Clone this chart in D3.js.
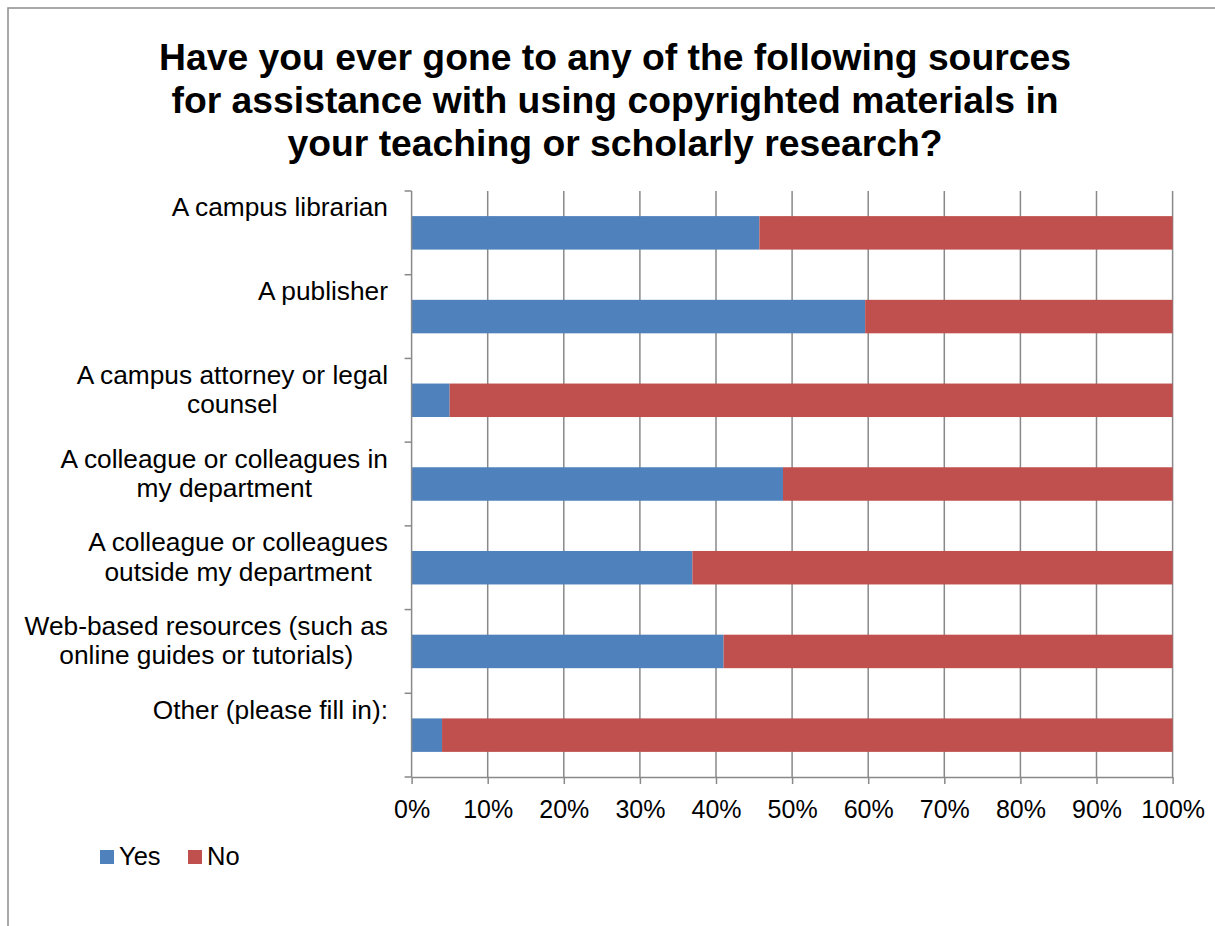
<!DOCTYPE html>
<html>
<head>
<meta charset="utf-8">
<script src="https://cdn.jsdelivr.net/npm/d3@7"></script>
<style>
  html, body { margin: 0; padding: 0; background: #fff; }
  svg { display: block; font-family: "Liberation Sans", Arial, sans-serif; }
</style>
</head>
<body>
<svg id="chart" width="1215" height="926"></svg>
<script>
// ---- data ----
const titleLines = [
  "Have you ever gone to any of the following sources",
  "for assistance with using copyrighted materials in",
  "your teaching or scholarly research?"
];
const categories = [
  "A campus librarian",
  "A publisher",
  "A campus attorney or legal counsel",
  "A colleague or colleagues in my department",
  "A colleague or colleagues outside my department",
  "Web-based resources (such as online guides or tutorials)",
  "Other (please fill in):"
];
const categoryLines = [
  ["A campus librarian"],
  ["A publisher"],
  ["A campus attorney or legal", "counsel"],
  ["A colleague or colleagues in", "my department"],
  ["A colleague or colleagues", "outside my department"],
  ["Web-based resources (such as", "online guides or tutorials)"],
  ["Other (please fill in):"]
];
const seriesNames = ["Yes", "No"];
const yesValues = [0.457, 0.596, 0.050, 0.488, 0.369, 0.410, 0.040];
const noValues  = [0.543, 0.404, 0.950, 0.512, 0.631, 0.590, 0.960];
const xTicks = [0, 0.1, 0.2, 0.3, 0.4, 0.5, 0.6, 0.7, 0.8, 0.9, 1.0];
const colors = ["#4F81BD", "#C0504D"];

// ---- layout ----
const svg = d3.select("#chart");
const gridColor = "#898989";
const plot = { left: 411.6, right: 1172.6, top: 191, bottom: 777 };

// outer border (right and bottom edges lie outside the picture)
svg.append("rect")
  .attr("x", 8).attr("y", 8).attr("width", 1230).attr("height", 1000)
  .attr("fill", "#fff").attr("stroke", "#8c8c8c").attr("stroke-width", 1.5);

// title
svg.append("g").selectAll("text").data(titleLines).join("text")
  .attr("x", 615).attr("y", (d, i) => 70 + i * 43)
  .attr("text-anchor", "middle")
  .attr("font-size", 37.3).attr("font-weight", "bold").attr("fill", "#000")
  .text(d => d);

const x = d3.scaleLinear().domain([0, 1]).range([plot.left, plot.right]);
const y = d3.scaleBand().domain(categories).range([plot.top, plot.bottom])
  .paddingInner(0.6).paddingOuter(0.3);

// gridlines
svg.append("g").selectAll("line").data(xTicks.filter(t => t > 0)).join("line")
  .attr("x1", d => x(d)).attr("x2", d => x(d))
  .attr("y1", plot.top).attr("y2", plot.bottom)
  .attr("stroke", gridColor).attr("stroke-width", 1.5);

// bars
const stackData = categories.map((c, i) => ({ cat: c, Yes: yesValues[i], No: noValues[i] }));
const stack = d3.stack().keys(seriesNames)(stackData);
svg.append("g").selectAll("g").data(stack).join("g")
  .attr("fill", (d, i) => colors[i])
  .selectAll("rect").data(d => d).join("rect")
  .attr("x", d => x(d[0]))
  .attr("width", d => x(d[1]) - x(d[0]))
  .attr("y", d => y(d.data.cat))
  .attr("height", y.bandwidth());

// x axis
const xAxis = d3.axisBottom(x).tickValues(xTicks).tickSize(7).tickSizeOuter(0)
  .tickFormat(d3.format(".0%"));
const gx = svg.append("g").attr("transform", `translate(0,${plot.bottom})`).call(xAxis);
gx.select(".domain").attr("stroke", gridColor).attr("stroke-width", 1.5);
gx.selectAll(".tick line").attr("stroke", gridColor).attr("stroke-width", 1.5);
gx.selectAll(".tick text").attr("font-size", 25).attr("fill", "#000")
  .attr("font-family", "'Liberation Sans', Arial, sans-serif")
  .attr("dy", null).attr("y", 41);

// y axis line + ticks at band boundaries
const boundaries = d3.range(categories.length + 1).map(i => plot.top + i * (plot.bottom - plot.top) / categories.length);
svg.append("line")
  .attr("x1", plot.left).attr("x2", plot.left)
  .attr("y1", plot.top).attr("y2", plot.bottom)
  .attr("stroke", gridColor).attr("stroke-width", 1.5);
svg.append("g").selectAll("line").data(boundaries).join("line")
  .attr("x1", plot.left - 7).attr("x2", plot.left)
  .attr("y1", d => d).attr("y2", d => d)
  .attr("stroke", gridColor).attr("stroke-width", 1.5);

// category labels
const labelRight = 388;
const labG = svg.append("g");
categories.forEach((c, i) => {
  const lines = categoryLines[i];
  const cy = y(c) + y.bandwidth() / 2;
  const t = labG.append("text")
    .attr("font-size", 26.3).attr("fill", "#000").attr("text-anchor", "middle");
  lines.forEach((ln, j) => {
    t.append("tspan").attr("y", cy - 16.5 + j * 29.3).text(ln);
  });
  let maxW = 0;
  t.selectAll("tspan").each(function() { maxW = Math.max(maxW, this.getComputedTextLength()); });
  t.selectAll("tspan").attr("x", labelRight - maxW / 2);
});

// legend
const leg = svg.append("g");
const legX = [100, 188];
seriesNames.forEach((s, i) => {
  leg.append("rect").attr("x", legX[i]).attr("y", 850).attr("width", 14).attr("height", 14)
    .attr("fill", colors[i]);
  leg.append("text").attr("x", legX[i] + 19).attr("y", 865)
    .attr("font-size", 25.5).attr("fill", "#000").text(s);
});
</script>
</body>
</html>
